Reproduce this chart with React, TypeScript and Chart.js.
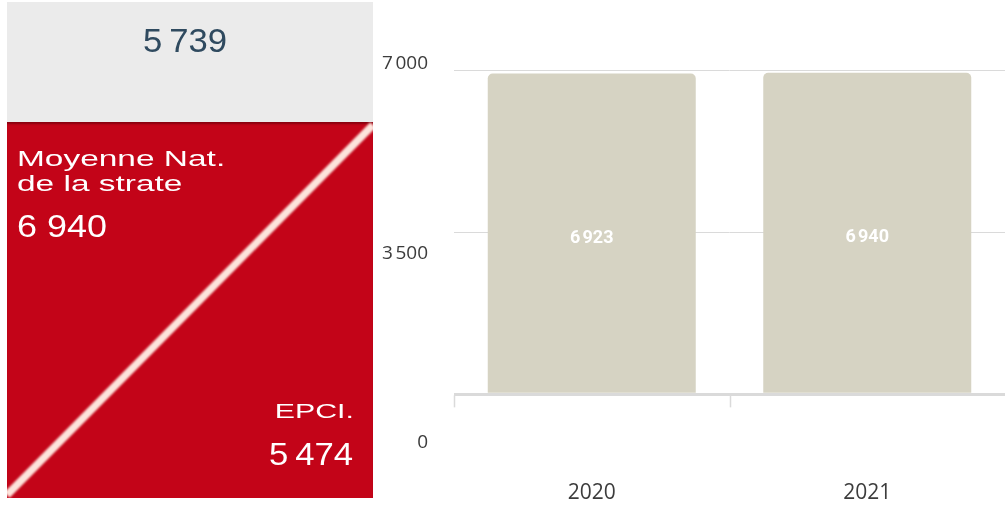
import React, { useEffect, useRef } from "react";
import { Chart, registerables } from "chart.js";

Chart.register(...registerables);

// ---- data ----
const categories = ["2020", "2021"];
const values = [6923, 6940];
const yTicks = [0, 3500, 7000];
const yTickLabels = ["0", "3\u202F500", "7\u202F000"];
const topValue = "5\u202F739";
const nationalLabelLines = ["Moyenne Nat.", "de la strate"];
const nationalValue = "6 940";
const epciLabel = "EPCI.";
const epciValue = "5\u202F474";

const BAR_COLOR = "#d6d3c3";
const GRID_COLOR = "#dadada";
const TICK_COLOR = "#3c3c3c";

const fmt = (v: number) => new Intl.NumberFormat("fr-FR").format(v);

const valueLabelPlugin = {
  id: "valueLabels",
  afterDatasetsDraw(chart: any) {
    const ctx = chart.ctx;
    const meta = chart.getDatasetMeta(0);
    ctx.save();
    ctx.fillStyle = "#ffffff";
    ctx.font = "bold 18px Roboto";
    ctx.textAlign = "center";
    ctx.textBaseline = "middle";
    meta.data.forEach((bar: any, i: number) => {
      const { x, y, base } = bar.getProps(["x", "y", "base"], true);
      ctx.fillText(fmt(values[i]), x, (y + base) / 2 + 5);
    });
    ctx.restore();
  },
};

const baseTickPlugin = {
  id: "baseTicks",
  afterDraw(chart: any) {
    const xs = chart.scales.x;
    const ys = chart.scales.y;
    const ctx = chart.ctx;
    const n = categories.length;
    const cw = xs.width / n;
    const y0 = ys.getPixelForValue(0);
    ctx.save();
    ctx.strokeStyle = GRID_COLOR;
    ctx.lineWidth = 1.5;
    for (let i = 0; i < n; i++) {
      const x = Math.round(xs.getPixelForValue(i) - cw / 2) + 0.5;
      ctx.beginPath();
      ctx.moveTo(x, y0 + 1);
      ctx.lineTo(x, y0 + 13);
      ctx.stroke();
    }
    ctx.restore();
  },
};

function BarChart() {
  const ref = useRef<HTMLCanvasElement | null>(null);
  useEffect(() => {
    if (!ref.current) return;
    const chart = new Chart(ref.current, {
      type: "bar",
      data: {
        labels: categories,
        datasets: [
          {
            data: values,
            backgroundColor: BAR_COLOR,
            borderRadius: 5,
            barPercentage: 0.755,
            categoryPercentage: 1,
            xAxisID: "x",
            yAxisID: "y",
          },
        ],
      },
      options: {
        animation: false,
        responsive: true,
        maintainAspectRatio: false,
        layout: { padding: { top: 64, left: 0, right: 0, bottom: 0 } },
        plugins: { legend: { display: false }, tooltip: { enabled: false } },
        scales: {
          x: {
            grid: { display: false, drawTicks: false },
            border: { display: false },
            ticks: {
              padding: 37,
              color: TICK_COLOR,
              font: { family: "'Open Sans'", size: 21 },
            },
            afterFit: (s: any) => {
              s.height = 64;
            },
          },
          yl: {
            type: "linear",
            position: "left",
            min: 0,
            max: 7000,
            grid: { display: false, drawTicks: false },
            border: { display: false },
            afterBuildTicks: (s: any) => {
              s.ticks = yTicks.map((v) => ({ value: v }));
            },
            ticks: {
              padding: 26,
              color: TICK_COLOR,
              font: { family: "'Open Sans'", size: 19 },
              callback: (v: any) => {
                const i = yTicks.indexOf(Number(v));
                return i >= 0 ? yTickLabels[i] : "";
              },
            },
            afterFit: (s: any) => {
              s.width = 79;
            },
          },
          y: {
            type: "linear",
            position: "left",
            min: -1050,
            max: 7130,
            grid: {
              color: GRID_COLOR,
              lineWidth: (c: any) => (c.tick && c.tick.value === 0 ? 3 : 1),
              drawTicks: false,
            },
            border: { display: false },
            ticks: { display: false },
            afterBuildTicks: (s: any) => {
              s.ticks = yTicks.map((v) => ({ value: v }));
            },
            afterFit: (s: any) => {
              s.width = 0;
            },
          },
        },
      } as any,
      plugins: [valueLabelPlugin, baseTickPlugin],
    });
    return () => chart.destroy();
  }, []);
  return (
    <div style={{ position: "absolute", left: 375, top: 0, width: 630, height: 507 }}>
      <canvas ref={ref} />
    </div>
  );
}

const txt: React.CSSProperties = {
  position: "absolute",
  fontFamily: "'Liberation Sans', Arial, sans-serif",
  whiteSpace: "nowrap",
};

export default function App() {
  return (
    <div
      style={{
        position: "absolute",
        left: 0,
        top: 0,
        width: 1005,
        height: 507,
        background: "#ffffff",
        overflow: "hidden",
      }}
    >
      {/* grey top */}
      <div style={{ position: "absolute", left: 7, top: 2, width: 366, height: 121, background: "#ebebeb" }} />
      <div
        style={{
          ...txt,
          left: 0,
          width: 370,
          top: 24,
          fontSize: 33,
          lineHeight: "33px",
          textAlign: "center",
          color: "#2f4a5f",
        }}
      >
        <span style={{ display: "inline-block", transform: "scaleX(1.05)" }}>{topValue}</span>
      </div>
      {/* red box */}
      <div
        style={{
          position: "absolute",
          left: 7,
          top: 122,
          width: 366,
          height: 376,
          background: "#c30418",
          boxShadow: "inset 0 3px 2px -1px rgba(90,0,10,0.55)",
        }}
      />
      <svg width={366} height={376} style={{ position: "absolute", left: 7, top: 122 }}>
        <defs>
          <filter id="soft" x="-5%" y="-5%" width="110%" height="110%">
            <feGaussianBlur stdDeviation="0.9" />
          </filter>
        </defs>
        <line x1={0} y1={373} x2={366} y2={3} stroke="#fde4dc" strokeWidth={7.5} filter="url(#soft)" />
      </svg>
      <div style={{ ...txt, left: 17, top: 146, fontSize: 22, lineHeight: "25px", color: "#ffffff" }}>
        {nationalLabelLines.map((l, i) => (
          <div key={i} style={{ transform: "scaleX(1.52)", transformOrigin: "left center" }}>
            {l}
          </div>
        ))}
      </div>
      <div style={{ ...txt, left: 17, top: 211, fontSize: 31, lineHeight: "31px", color: "#ffffff" }}>
        <span style={{ display: "inline-block", transform: "scaleX(1.16)", transformOrigin: "left center" }}>
          {nationalValue}
        </span>
      </div>
      <div
        style={{
          ...txt,
          left: 0,
          width: 354,
          top: 400,
          fontSize: 21,
          lineHeight: "21px",
          textAlign: "right",
          color: "#ffffff",
        }}
      >
        <span style={{ display: "inline-block", transform: "scaleX(1.44)", transformOrigin: "right center" }}>
          {epciLabel}
        </span>
      </div>
      <div
        style={{
          ...txt,
          left: 0,
          width: 353,
          top: 439,
          fontSize: 31,
          lineHeight: "31px",
          textAlign: "right",
          color: "#ffffff",
        }}
      >
        <span style={{ display: "inline-block", transform: "scaleX(1.12)", transformOrigin: "right center" }}>
          {epciValue}
        </span>
      </div>
      <BarChart />
    </div>
  );
}
